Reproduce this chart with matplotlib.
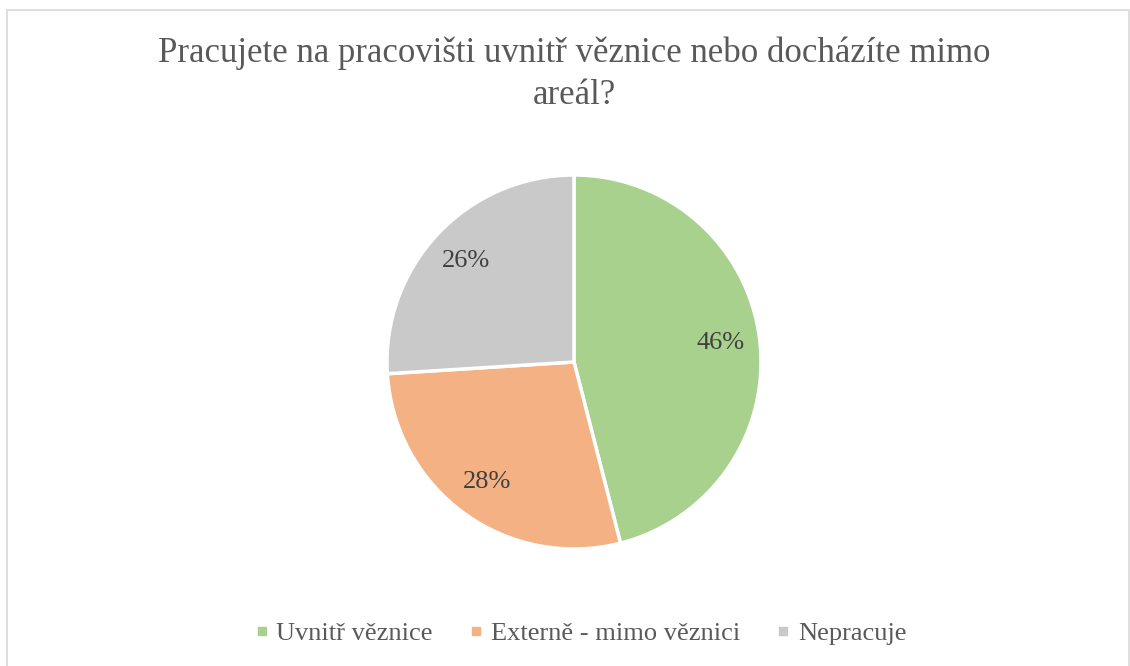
import matplotlib as mpl
mpl.use('Agg')
import matplotlib.pyplot as plt
from matplotlib.lines import Line2D
from matplotlib.patches import Rectangle

kategorie = ["Uvnitř věznice", "Externě - mimo věznici", "Nepracuje"]
podily = [46, 28, 26]
barvy = ["#A9D18E", "#F4B183", "#C9C9C9"]
titulek = "Pracujete na pracovišti uvnitř věznice nebo docházíte mimo\nareál?"

W, H = 1130, 666
fig = plt.figure(figsize=(W / 100, H / 100), dpi=100)
fig.patch.set_facecolor("white")

# ramecek grafu
fig.add_artist(Rectangle((7 / W, -0.01), (W - 8) / W, 1 - 10 / H + 0.01,
                         transform=fig.transFigure, fill=False,
                         edgecolor="#D9D9D9", linewidth=1.2))

cx, cy, r = 574, 362, 187
ax = fig.add_axes([(cx - r) / W, (H - cy - r) / H, 2 * r / W, 2 * r / H])
ax.pie(podily, colors=barvy, startangle=90, counterclock=False,
       autopct="%d%%", pctdistance=0.79,
       wedgeprops=dict(edgecolor="white", linewidth=2.5),
       textprops=dict(family="Liberation Serif", fontsize=19, color="#404040"))
ax.set_xlim(-1.0, 1.0)
ax.set_ylim(-1.0, 1.0)
ax.set_aspect("equal")
ax.axis("off")

fig.text(574 / W, 1 - 74 / H, titulek, ha="center", va="center",
         family="Liberation Serif", fontsize=25, color="#595959",
         linespacing=1.38)

handles = [Line2D([], [], linestyle="none", marker="s", markersize=6,
                  markerfacecolor=c, markeredgecolor=c) for c in barvy]
leg = fig.legend(handles, kategorie, loc="center", ncol=3,
                 bbox_to_anchor=(580 / W, 1 - 633 / H), frameon=False,
                 prop=dict(family="Liberation Serif", size=19),
                 handlelength=0.6, handletextpad=0.25, columnspacing=1.35)
for t in leg.get_texts():
    t.set_color("#595959")

plt.savefig("out.png", dpi=100)
